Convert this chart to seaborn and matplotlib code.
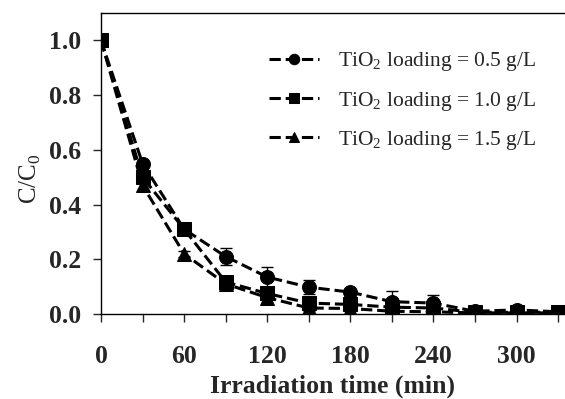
import numpy as np
import pandas as pd
import matplotlib
matplotlib.use('Agg')
import matplotlib.pyplot as plt
import seaborn as sns
from matplotlib.ticker import MultipleLocator

# ── Datos ─────────────────────────────────────────────────────────────────────
time_min = [0, 30, 60, 90, 120, 150, 180, 210, 240, 270, 300, 330]

c_05 = [1.00, 0.55, 0.31, 0.21, 0.135, 0.098, 0.080, 0.045, 0.040, 0.010, 0.015, 0.008]
c_10 = [1.00, 0.50, 0.31, 0.117, 0.075, 0.040, 0.035, 0.025, 0.022, 0.006, 0.006, 0.006]
c_15 = [1.00, 0.47, 0.22, 0.110, 0.060, 0.022, 0.020, 0.010, 0.008, 0.004, 0.004, 0.004]

err_05 = [0.0, 0.01, 0.02, 0.03, 0.035, 0.025, 0.01, 0.04, 0.03, 0.01, 0.01, 0.01]
err_10 = [0.0, 0.02, 0.02, 0.01, 0.015, 0.01, 0.01, 0.01, 0.01, 0.005, 0.005, 0.005]
err_15 = [0.0, 0.02, 0.01, 0.01, 0.01, 0.01, 0.01, 0.01, 0.01, 0.005, 0.005, 0.005]

labels = ['TiO$_2$ loading = 0.5 g/L',
          'TiO$_2$ loading = 1.0 g/L',
          'TiO$_2$ loading = 1.5 g/L']
markers = ['o', 's', '^']

sns.set_style('ticks')
plt.rcParams['font.family'] = ['Liberation Serif', 'DejaVu Serif']
plt.rcParams['mathtext.fontset'] = 'custom'
plt.rcParams['mathtext.rm'] = 'Liberation Serif'

fig = plt.figure(figsize=(5.65, 3.99), dpi=100)
ax = fig.add_axes([101 / 565, 1 - 314 / 399, 1 - 101 / 565, (314 - 13) / 399])

for vals, errs, lab, mk in zip([c_05, c_10, c_15], [err_05, err_10, err_15], labels, markers):
    ax.errorbar(time_min, vals, yerr=errs, fmt='none', ecolor='black',
                elinewidth=1, capsize=4, capthick=1, zorder=2)
    sns.lineplot(x=time_min, y=vals, ax=ax, color='black', marker=mk,
                 markersize=10, markeredgecolor='black', linestyle='--',
                 dashes=(3, 2), linewidth=2.2, label=lab, zorder=3)

ax.set_xlim(0, 335)
ax.set_ylim(0, 1.1)
ax.xaxis.set_major_locator(MultipleLocator(60))
ax.xaxis.set_minor_locator(MultipleLocator(30))
ax.set_yticks([0.0, 0.2, 0.4, 0.6, 0.8, 1.0])
ax.yaxis.set_major_formatter(matplotlib.ticker.FormatStrFormatter('%.1f'))
ax.tick_params(axis='both', which='both', direction='out', length=6, width=1,
               labelsize=18.5, pad=8)
ax.tick_params(axis='x', which='major', pad=16)
for t in ax.get_xticklabels() + ax.get_yticklabels():
    t.set_fontweight('bold')

for s in ['left', 'bottom', 'top']:
    ax.spines[s].set_linewidth(1)
    ax.spines[s].set_color('black')
ax.spines['right'].set_visible(False)

ax.set_xlabel('Irradiation time (min)', fontsize=18.5, fontweight='bold', labelpad=5)
ax.set_ylabel('C/C$_0$', fontsize=18)
ax.yaxis.set_label_coords(-0.125, 0.45)

ax.legend(loc='upper right', frameon=False, fontsize=15.5, markerscale=0.75,
          handlelength=2.3, handletextpad=0.9, labelspacing=0.75,
          bbox_to_anchor=(0.98, 0.94))

fig.savefig('out.png', dpi=100)
